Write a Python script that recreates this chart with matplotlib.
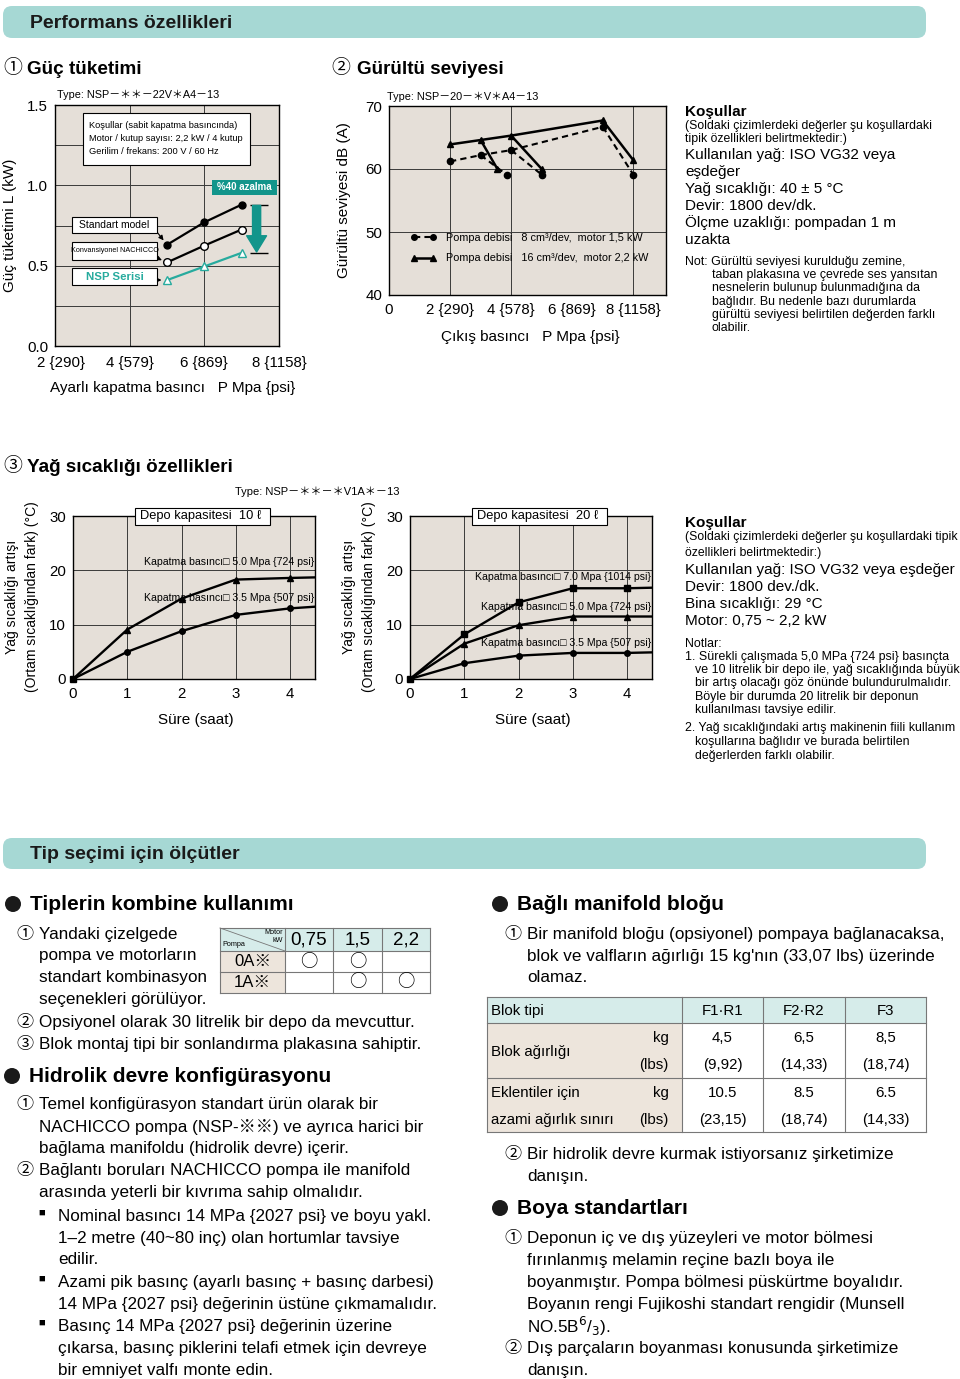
import matplotlib
matplotlib.use('Agg')
import matplotlib.pyplot as plt
from matplotlib.transforms import Affine2D, ScaledTranslation
from matplotlib.patches import Rectangle, FancyBboxPatch, Circle
from matplotlib.lines import Line2D

plt.rcParams['font.family'] = ['Liberation Sans', 'Noto Sans CJK JP', 'DejaVu Sans']

W, H = 960, 1379
TEAL_BAR = '#a6d8d4'
TEAL = '#12958b'
NSP_C = '#27ab9e'
PLOT_BG = '#e5dfd8'
BEIGE = '#ede5dc'
HEAD = '#d6ecea'
GRID = '#3a3a3a'
BODY = 12.3
TAB = 10.8

# ---------------- data ----------------
# (1) power consumption
power_p = [5, 6, 7]
power_std = [0.63, 0.77, 0.88]
power_conv = [0.52, 0.625, 0.725]
power_nsp = [0.41, 0.495, 0.58]
power_xticks = [2, 4, 6, 8]
power_xlabels = ['2 {290}', '4 {579}', '6 {869}', '8 {1158}']

# (2) noise level
noise_xticks = [0, 2, 4, 6, 8]
noise_xlabels = ['0', '2 {290}', '4 {578}', '6 {869}', '8 {1158}']
noise8_p = [2, 3, 4, 7]
noise8_db = [61.2, 62.2, 63.0, 66.7]
noise8_drop_p = [3.85, 5.0, 8.0]
noise8_drop_db = [59.1, 59.1, 59.1]
noise16_p = [2, 3, 4, 7]
noise16_db = [63.9, 64.6, 65.3, 67.7]
noise16_drop_p = [3.55, 5.0, 8.0]
noise16_drop_db = [60.0, 60.0, 61.4]

# (3) oil temperature rise
hours = [0, 1, 2, 3, 4, 4.45]
tank10_50 = [0, 9.1, 14.8, 18.3, 18.6, 18.7]
tank10_35 = [0, 5.0, 8.8, 11.8, 13.0, 13.3]
tank20_70 = [0, 8.2, 14.1, 16.7, 16.7, 16.8]
tank20_50 = [0, 6.5, 9.9, 11.5, 11.5, 11.5]
tank20_35 = [0, 2.9, 4.3, 4.8, 4.8, 4.9]

# tables
combo_pumps = ['0A※', '1A※']
combo_motors = ['0,75', '1,5', '2,2']
combo_ok = [[True, True, False], [False, True, True]]
block_types = ['F1·R1', 'F2·R2', 'F3']
block_kg = ['4,5', '6,5', '8,5']
block_lbs = ['(9,92)', '(14,33)', '(18,74)']
load_kg = ['10.5', '8.5', '6.5']
load_lbs = ['(23,15)', '(18,74)', '(14,33)']

fig = plt.figure(figsize=(W / 100, H / 100), dpi=100)
fig.patch.set_facecolor('white')
# page pixel coordinates (origin top-left)
T = Affine2D().scale(1 / W, -1 / H).translate(0, 1) + fig.transFigure


def txt(x, y, s, size=BODY, **kw):
    kw.setdefault('va', 'center')
    return fig.text(x, y, s, transform=T, fontsize=size, **kw)


def rect(x0, y0, x1, y1, fc='white', ec='black', lw=0.8, **kw):
    r = Rectangle((x0, y0), x1 - x0, y1 - y0, transform=T, fc=fc, ec=ec, lw=lw, **kw)
    fig.add_artist(r)
    return r


def add_ax(x0, y0, x1, y1):
    ax = fig.add_axes([x0 / W, 1 - y1 / H, (x1 - x0) / W, (y1 - y0) / H])
    ax.set_facecolor(PLOT_BG)
    for s in ax.spines.values():
        s.set_linewidth(1.0)
    ax.tick_params(length=0, labelsize=10.8)
    return ax


def bar(y0, y1, label):
    fig.add_artist(FancyBboxPatch((3, y0), 923, y1 - y0, transform=T,
                                  boxstyle='round,pad=0,rounding_size=9',
                                  fc=TEAL_BAR, ec='none'))
    txt(30, (y0 + y1) / 2 + 1, label, size=14, weight='bold', color='#1a1a1a')


def heading(x, y, s):
    fig.add_artist(Circle((x - 17, y), 8, transform=T, fc='#1a1a1a', ec='none'))
    txt(x, y, s, size=15, weight='bold')


bar(6, 38, 'Performans özellikleri')
bar(838, 869, 'Tip seçimi için ölçütler')

# ---------------- chart 1 ----------------
txt(3, 68, '①', size=13.6)
txt(27, 69, 'Güç tüketimi', size=13.6, weight='bold')
txt(57, 95, 'Type: NSP－＊＊－22V＊A4－13', size=7.8)
ax1 = add_ax(55, 105, 279, 346)
ax1.set_xlim(2, 8)
ax1.set_ylim(0, 1.5)
ax1.set_xticks(power_xticks)
ax1.set_xticklabels(power_xlabels)
ax1.set_yticks([0, 0.25, 0.5, 0.75, 1.0, 1.25, 1.5])
ax1.set_yticklabels(['0.0', '', '0.5', '', '1.0', '', '1.5'])
ax1.tick_params(axis='x', pad=7)
ax1.tick_params(axis='y', pad=5)
first = ax1.get_xticklabels()[0]
first.set_transform(first.get_transform() + ScaledTranslation(0.06, 0, fig.dpi_scale_trans))
ax1.grid(True, color=GRID, lw=0.7)
ax1.set_axisbelow(True)
ax1.plot(power_p, power_std, '-o', color='black', lw=1.6, ms=5, mfc='black')
ax1.plot(power_p, power_conv, '-o', color='black', lw=1.6, ms=5.5, mfc='white')
ax1.plot(power_p, power_nsp, '-^', color=NSP_C, lw=1.6, ms=5.5, mfc='white')
ax1.hlines([power_std[-1], power_nsp[-1]], 7.22, 7.7, color='black', lw=1)
ax1.annotate('', xy=(7.4, power_nsp[-1] + 0.005), xytext=(7.4, power_std[-1] - 0.005),
             arrowprops=dict(arrowstyle='simple,head_length=0.9,head_width=1.1,tail_width=0.45',
                             color=TEAL, mutation_scale=13, shrinkA=0, shrinkB=0))
for series, ty in ((power_std, 232), (power_conv, 258), (power_nsp, 280)):
    ax1.annotate('', xy=(power_p[0], series[0]), xytext=(157, ty), textcoords=T,
                 arrowprops=dict(arrowstyle='-|>', color='black', lw=0.8,
                                 mutation_scale=7, shrinkA=0, shrinkB=4))
txt(10, 225, 'Güç tüketimi L (kW)', size=11, rotation=90, ha='center')
txt(173, 388, 'Ayarlı kapatma basıncı   P Mpa {psi}', size=11, ha='center')
rect(83, 113, 250, 165)
for i, line in enumerate(['Koşullar (sabit kapatma basıncında)',
                          'Motor / kutup sayısı: 2,2 kW / 4 kutup',
                          'Gerilim / frekans: 200 V / 60 Hz']):
    txt(89, 125 + 13.5 * i, line, size=6.7)
rect(72, 217, 157, 233)
txt(114.5, 225, 'Standart model', size=7.5, ha='center')
rect(72, 242, 157, 260)
txt(114.5, 251, 'Konvansiyonel NACHICCO', size=5.2, ha='center')
rect(72, 268, 157, 285)
txt(114.5, 276.5, 'NSP Serisi', size=8.2, ha='center', weight='bold', color=NSP_C)
rect(212, 180, 277, 195, fc=TEAL, ec='none')
txt(244.5, 187.5, '%40 azalma', size=7, ha='center', weight='bold', color='white')

# ---------------- chart 2 ----------------
txt(331, 68, '②', size=13.6)
txt(357, 69, 'Gürültü seviyesi', size=13.6, weight='bold')
txt(387, 97, 'Type: NSP－20－＊V＊A4－13', size=7.8)
ax2 = add_ax(389, 106, 666, 295)
ax2.set_xlim(0, 9.07)
ax2.set_ylim(40, 70)
ax2.set_xticks(noise_xticks)
ax2.set_xticklabels(noise_xlabels)
ax2.set_yticks([40, 50, 60, 70])
ax2.tick_params(axis='x', pad=6)
ax2.tick_params(axis='y', pad=5)
for gx in (2, 4, 8):
    ax2.axvline(gx, color=GRID, lw=0.7, zorder=0.5)
for gy in (50, 60):
    ax2.axhline(gy, color=GRID, lw=0.7, zorder=0.5)
ax2.plot(noise8_p, noise8_db, '--o', color='black', lw=1.5, ms=4.5, dashes=(3, 2))
ax2.plot(noise16_p, noise16_db, '-^', color='black', lw=1.8, ms=4.5)
for i in range(3):
    ax2.plot([noise8_p[i + 1], noise8_drop_p[i]], [noise8_db[i + 1], noise8_drop_db[i]],
             '--o', color='black', lw=1.5, ms=4.5, dashes=(3, 2), markevery=[1])
    ax2.plot([noise16_p[i + 1], noise16_drop_p[i]], [noise16_db[i + 1], noise16_drop_db[i]],
             '-^', color='black', lw=1.8, ms=4.5, markevery=[1])
h8 = Line2D([], [], ls='--', dashes=(3, 2), marker='o', color='black', lw=1.5, ms=4)
h16 = Line2D([], [], ls='-', marker='^', color='black', lw=1.8, ms=4)
ax2.legend([h8, h16], ['Pompa debisi   8 cm³/dev,  motor 1,5 kW',
                       'Pompa debisi   16 cm³/dev,  motor 2,2 kW'],
           loc='upper left', bbox_to_anchor=(0.08, 0.33), frameon=False, fontsize=7.8,
           numpoints=2, handlelength=2.3, handletextpad=0.9, labelspacing=1.0,
           borderaxespad=0, borderpad=0)
txt(344, 200, 'Gürültü seviyesi dB (A)', size=11, rotation=90, ha='center')
txt(530, 337, 'Çıkış basıncı   P Mpa {psi}', size=11, ha='center')

# conditions 1
txt(685, 112, 'Koşullar', size=11, weight='bold')
txt(685, 126, '(Soldaki çizimlerdeki değerler şu koşullardaki', size=8.8)
txt(685, 139, 'tipik özellikleri belirtmektedir:)', size=8.8)
for i, line in enumerate(['Kullanılan yağ: ISO VG32 veya', 'eşdeğer',
                          'Yağ sıcaklığı: 40 ± 5 °C', 'Devir: 1800 dev/dk.',
                          'Ölçme uzaklığı: pompadan 1 m', 'uzakta']):
    txt(685, 155 + 17 * i, line, size=11)
txt(685, 262, 'Not: Gürültü seviyesi kurulduğu zemine,', size=8.95)
for i, line in enumerate(['taban plakasına ve çevrede ses yansıtan',
                          'nesnelerin bulunup bulunmadığına da',
                          'bağlıdır. Bu nedenle bazı durumlarda',
                          'gürültü seviyesi belirtilen değerden farklı',
                          'olabilir.']):
    txt(712, 275 + 13.3 * i, line, size=8.95)

# ---------------- chart 3 ----------------
txt(3, 466, '③', size=13.6)
txt(27, 467, 'Yağ sıcaklığı özellikleri', size=13.6, weight='bold')
txt(235, 492, 'Type: NSP－＊＊－＊V1A＊－13', size=8)


def temp_ax(x0, x1, series, labels, label_y, tank):
    ax = add_ax(x0, 516, x1, 679)
    ax.set_xlim(0, 4.46)
    ax.set_ylim(0, 30)
    ax.set_xticks([0, 1, 2, 3, 4])
    ax.set_yticks([0, 10, 20, 30])
    ax.tick_params(axis='x', pad=6)
    ax.tick_params(axis='y', pad=5)
    ax.grid(True, color=GRID, lw=0.7)
    ax.set_axisbelow(True)
    for vals, mk in series:
        ax.plot(hours, vals, '-', color='black', lw=1.7, marker=mk, ms=4,
                markevery=[1, 2, 3, 4], clip_on=False)
    ax.plot(hours[0], series[0][0][0], 's', color='black', ms=4.5, clip_on=False)
    for lab, ly in zip(labels, label_y):
        txt(x1 - 1, ly, lab, size=7.6, ha='right')
    bx0 = x0 + 62
    rect(bx0, 508, bx0 + 135, 524.5)
    txt(bx0 + 5, 516.5, 'Depo kapasitesi  %s ℓ' % tank, size=9.3)
    txt(x0 - 61, 597, 'Yağ sıcaklığı artışı', size=10, rotation=90, ha='center')
    txt(x0 - 41, 597, '(Ortam sıcaklığından fark) (°C)', size=10, rotation=90, ha='center')
    txt((x0 + x1) / 2 + 2, 720, 'Süre (saat)', size=11, ha='center')
    return ax


temp_ax(73, 315, [(tank10_50, '^'), (tank10_35, 'o')],
        ['Kapatma basıncı□ 5.0 Mpa {724 psi}', 'Kapatma basıncı□ 3.5 Mpa {507 psi}'],
        [562, 598], '10')
temp_ax(410, 652, [(tank20_70, 's'), (tank20_50, '^'), (tank20_35, 'o')],
        ['Kapatma basıncı□ 7.0 Mpa {1014 psi}', 'Kapatma basıncı□ 5.0 Mpa {724 psi}',
         'Kapatma basıncı□ 3.5 Mpa {507 psi}'],
        [577, 607, 643], '20')

# conditions 2
txt(685, 523, 'Koşullar', size=11, weight='bold')
txt(685, 537, '(Soldaki çizimlerdeki değerler şu koşullardaki tipik', size=8.8)
txt(685, 553, 'özellikleri belirtmektedir:)', size=8.8)
for i, line in enumerate(['Kullanılan yağ: ISO VG32 veya eşdeğer', 'Devir: 1800 dev./dk.',
                          'Bina sıcaklığı: 29 °C', 'Motor: 0,75 ~ 2,2 kW']):
    txt(685, 570 + 17 * i, line, size=11)
txt(685, 644, 'Notlar:', size=8.95)
notes = [(685, 657, '1. Sürekli çalışmada 5,0 MPa {724 psi} basınçta'),
         (695, 670, 've 10 litrelik bir depo ile, yağ sıcaklığında büyük'),
         (695, 683, 'bir artış olacağı göz önünde bulundurulmalıdır.'),
         (695, 697, 'Böyle bir durumda 20 litrelik bir deponun'),
         (695, 710, 'kullanılması tavsiye edilir.'),
         (685, 728, '2. Yağ sıcaklığındaki artış makinenin fiili kullanım'),
         (695, 742, 'koşullarına bağlıdır ve burada belirtilen'),
         (695, 756, 'değerlerden farklı olabilir.')]
for x, y, s in notes:
    txt(x, y, s, size=8.9)

# ---------------- bottom left ----------------
heading(30, 904, 'Tiplerin kombine kullanımı')
txt(16, 934, '①')
for i, line in enumerate(['Yandaki çizelgede', 'pompa ve motorların',
                          'standart kombinasyon', 'seçenekleri görülüyor.']):
    txt(39, 934 + 21.7 * i, line)
txt(16, 1022, '②')
txt(39, 1022, 'Opsiyonel olarak 30 litrelik bir depo da mevcuttur.')
txt(16, 1044, '③')
txt(39, 1044, 'Blok montaj tipi bir sonlandırma plakasına sahiptir.')
heading(29, 1076, 'Hidrolik devre konfigürasyonu')
left_lines = [(16, 1105, '①', 'Temel konfigürasyon standart ürün olarak bir'),
              (None, 1127, None, 'NACHICCO pompa (NSP-※※) ve ayrıca harici bir'),
              (None, 1149, None, 'bağlama manifoldu (hidrolik devre) içerir.'),
              (16, 1171, '②', 'Bağlantı boruları NACHICCO pompa ile manifold'),
              (None, 1193, None, 'arasında yeterli bir kıvrıma sahip olmalıdır.')]
for mx, y, mark, s in left_lines:
    if mark:
        txt(mx, y, mark)
    txt(39, y, s)
sq_lines = [('■', 1216, 'Nominal basıncı 14 MPa {2027 psi} ve boyu yakl.'),
            (None, 1238, '1–2 metre (40~80 inç) olan hortumlar tavsiye'),
            (None, 1260, 'edilir.'),
            ('■', 1282, 'Azami pik basınç (ayarlı basınç + basınç darbesi)'),
            (None, 1304, '14 MPa {2027 psi} değerinin üstüne çıkmamalıdır.'),
            ('■', 1326, 'Basınç 14 MPa {2027 psi} değerinin üzerine'),
            (None, 1348, 'çıkarsa, basınç piklerini telafi etmek için devreye'),
            (None, 1370, 'bir emniyet valfı monte edin.')]
for mark, y, s in sq_lines:
    if mark:
        txt(38, y - 3, mark, size=8)
    txt(58, y, s)

# combination table
cx = [220, 285, 333, 382, 430]
cy = [928, 951, 972, 993]
rect(cx[0], cy[0], cx[-1], cy[1], fc=HEAD, ec='none')
rect(cx[0], cy[1], cx[1], cy[-1], fc=BEIGE, ec='none')
for x in cx:
    fig.add_artist(Line2D([x, x], [cy[0], cy[-1]], transform=T, color='#777', lw=0.8))
for y in cy:
    fig.add_artist(Line2D([cx[0], cx[-1]], [y, y], transform=T, color='#777', lw=0.8))
fig.add_artist(Line2D([cx[0], cx[1]], [cy[0], cy[1]], transform=T, color='#777', lw=0.6))
txt(283, 933, 'Motor', size=5.2, ha='right')
txt(283, 940, 'kW', size=5.2, ha='right')
txt(222, 944.5, 'Pompa', size=5.2)
for j, m in enumerate(combo_motors):
    txt((cx[j + 1] + cx[j + 2]) / 2, 940, m, size=13.5, ha='center')
for i, p in enumerate(combo_pumps):
    yc = (cy[i + 1] + cy[i + 2]) / 2
    txt((cx[0] + cx[1]) / 2, yc, p, size=12, ha='center')
    for j, ok in enumerate(combo_ok[i]):
        if ok:
            txt((cx[j + 1] + cx[j + 2]) / 2, yc, '○', size=12.5, ha='center',
                family='Noto Sans CJK JP')

# ---------------- bottom right ----------------
heading(517, 904, 'Bağlı manifold bloğu')
txt(504, 934, '①')
for i, line in enumerate(['Bir manifold bloğu (opsiyonel) pompaya bağlanacaksa,',
                          'blok ve valfların ağırlığı 15 kg\'nın (33,07 lbs) üzerinde',
                          'olamaz.']):
    txt(527, 934 + 22 * i, line)

tx = [487, 682, 763, 845, 926]
ty = [997, 1023, 1078, 1132]
rect(tx[0], ty[0], tx[-1], ty[1], fc=HEAD, ec='none')
rect(tx[0], ty[1], tx[1], ty[-1], fc=BEIGE, ec='none')
for x in tx:
    fig.add_artist(Line2D([x, x], [ty[0], ty[-1]], transform=T, color='#777', lw=0.8))
for y in ty:
    fig.add_artist(Line2D([tx[0], tx[-1]], [y, y], transform=T, color='#777', lw=0.8))
txt(491, 1011, 'Blok tipi', size=TAB)
txt(491, 1052, 'Blok ağırlığı', size=TAB)
txt(491, 1093, 'Eklentiler için', size=TAB)
txt(491, 1120, 'azami ağırlık sınırı', size=TAB)
for y, u in ((1038, 'kg'), (1065, '(lbs)'), (1093, 'kg'), (1120, '(lbs)')):
    txt(669, y, u, size=TAB, ha='right')
for j in range(3):
    xc = (tx[j + 1] + tx[j + 2]) / 2
    txt(xc, 1011, block_types[j], size=TAB, ha='center')
    txt(xc, 1038, block_kg[j], size=TAB, ha='center')
    txt(xc, 1065, block_lbs[j], size=TAB, ha='center')
    txt(xc, 1093, load_kg[j], size=TAB, ha='center')
    txt(xc, 1120, load_lbs[j], size=TAB, ha='center')

txt(504, 1154, '②')
txt(527, 1154, 'Bir hidrolik devre kurmak istiyorsanız şirketimize')
txt(527, 1176, 'danışın.')
heading(517, 1208, 'Boya standartları')
txt(504, 1238, '①')
for i, line in enumerate(['Deponun iç ve dış yüzeyleri ve motor bölmesi',
                          'fırınlanmış melamin reçine bazlı boya ile',
                          'boyanmıştır. Pompa bölmesi püskürtme boyalıdır.',
                          'Boyanın rengi Fujikoshi standart rengidir (Munsell',
                          'NO.5B$^{6}$/$_{3}$).']):
    txt(527, 1238 + 22 * i, line)
txt(504, 1348, '②')
txt(527, 1348, 'Dış parçaların boyanması konusunda şirketimize')
txt(527, 1370, 'danışın.')

fig.savefig('out.png', dpi=100)
